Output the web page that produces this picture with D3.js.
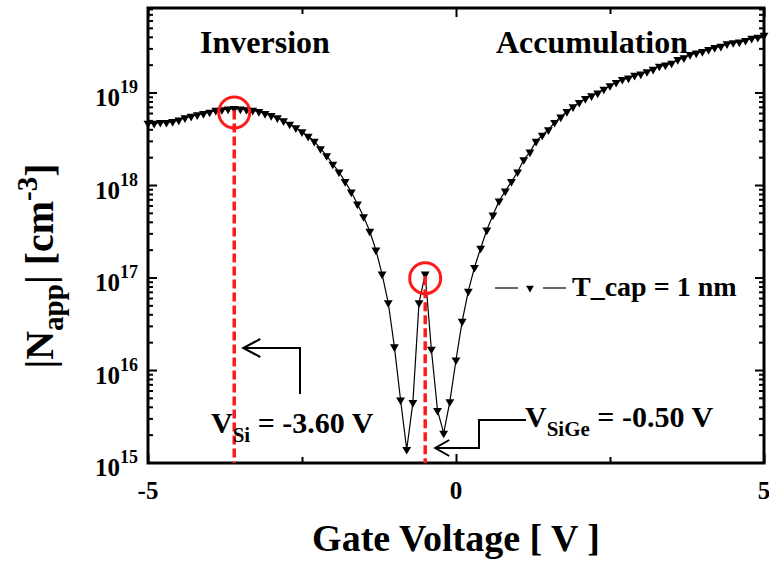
<!DOCTYPE html>
<html>
<head>
<meta charset="utf-8">
<script src="https://cdn.jsdelivr.net/npm/d3@7"></script>
<style>
  html, body { margin: 0; padding: 0; background: #fff; }
  svg text { font-family: "Liberation Serif", "Times New Roman", serif; font-weight: bold; fill: #000; }
</style>
</head>
<body>
<svg id="chart" width="769" height="561"></svg>
<script>
// Gate voltage sweep [V]
const gateVoltage = [
  -5.0, -4.9, -4.8, -4.7, -4.6, -4.5, -4.4, -4.3, -4.2, -4.1,
  -4.0, -3.9, -3.8, -3.7, -3.6, -3.5, -3.4, -3.3, -3.2, -3.1,
  -3.0, -2.9, -2.8, -2.7, -2.6, -2.5, -2.4, -2.3, -2.2, -2.1,
  -2.0, -1.9, -1.8, -1.7, -1.6, -1.5, -1.4, -1.3, -1.2, -1.1,
  -1.0, -0.9, -0.8, -0.7, -0.6, -0.5, -0.4, -0.3, -0.2, -0.1,
   0.0,  0.1,  0.2,  0.3,  0.4,  0.5,  0.6,  0.7,  0.8,  0.9,
   1.0,  1.1,  1.2,  1.3,  1.4,  1.5,  1.6,  1.7,  1.8,  1.9,
   2.0,  2.1,  2.2,  2.3,  2.4,  2.5,  2.6,  2.7,  2.8,  2.9,
   3.0,  3.1,  3.2,  3.3,  3.4,  3.5,  3.6,  3.7,  3.8,  3.9,
   4.0,  4.1,  4.2,  4.3,  4.4,  4.5,  4.6,  4.7,  4.8,  4.9,
   5.0
];

// |N_app| [cm^-3] for T_cap = 1 nm
const napp = [
  4.7e18, 4.7e18, 4.8e18, 4.8e18, 4.9e18, 5.1e18, 5.4e18, 5.6e18, 5.8e18, 6.0e18,
  6.2e18, 6.5e18, 6.6e18, 6.7e18, 6.8e18, 6.7e18, 6.6e18, 6.5e18, 6.3e18, 6.0e18,
  5.7e18, 5.4e18, 5.0e18, 4.6e18, 4.2e18, 3.8e18, 3.4e18, 3.0e18, 2.5e18, 2.1e18,
  1.7e18, 1.4e18, 1.1e18, 8.5e17, 6.3e17, 4.6e17, 3.2e17, 2.0e17, 1.1e17, 5.4e16,
  1.8e16, 4.8e15, 1.4e15, 4.5e15, 5.4e16, 1.1e17, 1.7e16, 3.7e15, 2.1e15, 4.6e15,
  1.3e16, 3.4e16, 7.2e16, 1.3e17, 2.1e17, 3.3e17, 4.8e17, 6.8e17, 8.7e17, 1.1e18,
  1.4e18, 1.9e18, 2.3e18, 3.0e18, 3.5e18, 4.0e18, 4.8e18, 5.5e18, 6.3e18, 7.1e18,
  7.9e18, 8.7e18, 9.3e18, 1.0e19, 1.1e19, 1.2e19, 1.3e19, 1.4e19, 1.45e19, 1.55e19,
  1.6e19, 1.7e19, 1.8e19, 1.95e19, 2.0e19, 2.1e19, 2.3e19, 2.4e19, 2.6e19, 2.7e19,
  2.8e19, 2.95e19, 3.1e19, 3.2e19, 3.4e19, 3.5e19, 3.55e19, 3.7e19, 3.9e19, 4.0e19,
  4.2e19
];

const xTickValues = [-5, -2.5, 0, 2.5, 5];
const xTickLabels = ["-5", "", "0", "", "5"];
const yDecades = [15, 16, 17, 18, 19];

// Marked peak voltages
const peakVoltages = [-3.60, -0.50];
const peakLabels = [
  { main: "V", sub: "Si", rest: " = -3.60 V" },
  { main: "V", sub: "SiGe", rest: " = -0.50 V" }
];
const regionLabels = ["Inversion", "Accumulation"];
const legendLabel = "T_cap = 1 nm";

const svg = d3.select("#chart");
const plotLeft = 148, plotRight = 764, plotTop = 8, plotBottom = 463;

const x = d3.scaleLinear().domain([-5, 5]).range([plotLeft, plotRight]);
const y = d3.scaleLog().domain([1e15, 8.3e19]).range([plotBottom, plotTop]);

const data = gateVoltage.map((v, i) => ({ v, n: napp[i] }));

// Log ticks: decades (major) plus 2..9 (minor)
const yTicks = [];
for (let e = 15; e <= 19; e++) {
  for (let m = 1; m <= 9; m++) {
    const val = m * Math.pow(10, e);
    if (val <= 8.3e19) yTicks.push({ val, major: m === 1 });
  }
}

// Left and right y ticks, pointing inward
[[plotLeft, 1], [plotRight, -1]].forEach(([x0, dir]) => {
  svg.append("g").selectAll("line").data(yTicks).join("line")
    .attr("x1", x0).attr("x2", d => x0 + dir * (d.major ? 9 : 5))
    .attr("y1", d => y(d.val)).attr("y2", d => y(d.val))
    .attr("stroke", "#000").attr("stroke-width", 2);
});

// Bottom & top x ticks via d3 axes, pointing inward
const gB = svg.append("g").attr("transform", `translate(0,${plotBottom})`)
  .call(d3.axisTop(x).tickValues(xTickValues).tickFormat("").tickSizeOuter(0));
gB.select(".domain").remove();
gB.selectAll(".tick line").attr("stroke-width", 2)
  .attr("y2", (d, i) => (i % 2 === 0 ? -9 : -6));
const gT = svg.append("g").attr("transform", `translate(0,${plotTop})`)
  .call(d3.axisBottom(x).tickValues(xTickValues).tickFormat("").tickSizeOuter(0));
gT.select(".domain").remove();
gT.selectAll(".tick line").attr("stroke-width", 2)
  .attr("y2", (d, i) => (i % 2 === 0 ? 9 : 6));

// Frame
svg.append("rect").attr("x", plotLeft).attr("y", plotTop)
  .attr("width", plotRight - plotLeft).attr("height", plotBottom - plotTop)
  .attr("fill", "none").attr("stroke", "#000").attr("stroke-width", 3);

// X tick labels
svg.append("g").selectAll("text").data(xTickValues).join("text")
  .attr("x", d => x(d)).attr("y", 499)
  .attr("text-anchor", "middle").attr("font-size", 25)
  .text((d, i) => xTickLabels[i]);

// Y tick labels 10^n
const yl = svg.append("g").selectAll("text").data(yDecades).join("text")
  .attr("x", 138).attr("y", d => y(Math.pow(10, d)) + 13)
  .attr("text-anchor", "end").attr("font-size", 25);
yl.append("tspan").text("10");
yl.append("tspan").attr("dy", -13).attr("font-size", 18).text(d => d);

// Axis titles
svg.append("text").attr("x", x(0)).attr("y", 551)
  .attr("text-anchor", "middle").attr("font-size", 38)
  .text("Gate Voltage [ V ]");

const yt = svg.append("text")
  .attr("transform", `translate(53,266) rotate(-90)`)
  .attr("text-anchor", "middle").attr("font-size", 40);
yt.append("tspan").text("|N");
yt.append("tspan").attr("font-size", 29).attr("dy", 10).text("app");
yt.append("tspan").attr("dy", -10).text("| [cm");
yt.append("tspan").attr("font-size", 29).attr("dy", -16).text("-3");
yt.append("tspan").attr("dy", 16).text("]");

// Data line
const line = d3.line().x(d => x(d.v)).y(d => y(d.n));
svg.append("path").datum(data)
  .attr("d", line).attr("fill", "none")
  .attr("stroke", "#000").attr("stroke-width", 1.2);

// Down-triangle markers
const tri = d3.symbol().type(d3.symbolTriangle).size(34);
svg.append("g").selectAll("path").data(data).join("path")
  .attr("d", tri)
  .attr("transform", d => `translate(${x(d.v)},${y(d.n)}) rotate(180)`)
  .attr("fill", "#000");

// Peak markers: red circles and dashed drop lines
const peakData = peakVoltages.map(v => data.find(d => Math.abs(d.v - v) < 1e-6));
svg.append("g").selectAll("line").data(peakData).join("line")
  .attr("x1", d => x(d.v)).attr("x2", d => x(d.v))
  .attr("y1", d => y(d.n) + 2).attr("y2", plotBottom)
  .attr("stroke", "#ff1a1a").attr("stroke-width", 3.5)
  .attr("stroke-dasharray", "9,4");
svg.append("g").selectAll("circle").data(peakData).join("circle")
  .attr("cx", d => x(d.v)).attr("cy", d => y(d.n) + 4).attr("r", 15.5)
  .attr("fill", "none").attr("stroke", "#ff1a1a").attr("stroke-width", 3);

// Region labels
svg.append("text").attr("x", 265).attr("y", 53).attr("text-anchor", "middle")
  .attr("font-size", 32).text(regionLabels[0]);
svg.append("text").attr("x", 592).attr("y", 53).attr("text-anchor", "middle")
  .attr("font-size", 32).text(regionLabels[1]);

// Legend
const lg = svg.append("g");
lg.append("line").attr("x1", 495).attr("x2", 518).attr("y1", 288).attr("y2", 288)
  .attr("stroke", "#000").attr("stroke-width", 1.2);
lg.append("line").attr("x1", 543).attr("x2", 566).attr("y1", 288).attr("y2", 288)
  .attr("stroke", "#000").attr("stroke-width", 1.2);
lg.append("path").attr("d", d3.symbol().type(d3.symbolTriangle).size(26))
  .attr("transform", "translate(530,288) rotate(180)").attr("fill", "#000");
lg.append("text").attr("x", 572).attr("y", 296).attr("font-size", 28).text(legendLabel);

// Elbow arrows pointing at the drop lines
const arrow = (pts, armX, armY) => {
  const tip = pts[pts.length - 1];
  svg.append("path").attr("d", d3.line()(pts))
    .attr("fill", "none").attr("stroke", "#000").attr("stroke-width", 2);
  svg.append("path")
    .attr("d", d3.line()([[tip[0] + armX, tip[1] - armY], tip, [tip[0] + armX, tip[1] + armY]]))
    .attr("fill", "none").attr("stroke", "#000").attr("stroke-width", 2);
};
arrow([[300, 394], [300, 348], [x(peakVoltages[0]) + 9, 348]], 17, 9);
arrow([[526, 420], [479, 420], [479, 448], [x(peakVoltages[1]) + 10, 448]], 14, 8);

// Peak value labels
const addPeakLabel = (lab, px, py) => {
  const t = svg.append("text").attr("x", px).attr("y", py).attr("font-size", 30);
  t.append("tspan").text(lab.main);
  t.append("tspan").attr("dy", 9).attr("font-size", 21).text(lab.sub);
  t.append("tspan").attr("dy", -9).text(lab.rest);
};
addPeakLabel(peakLabels[0], 211, 433);
addPeakLabel(peakLabels[1], 525, 427);
</script>
</body>
</html>
